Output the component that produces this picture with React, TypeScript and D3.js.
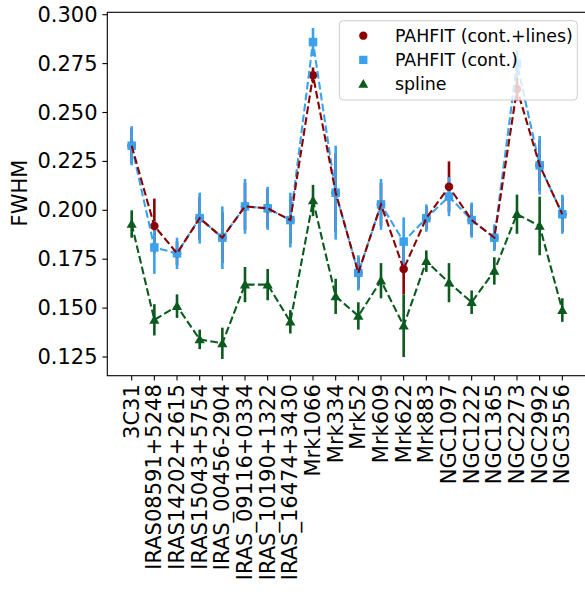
import React from "react";
import * as d3 from "d3";

const categories = [
  "3C31", "IRAS08591+5248", "IRAS14202+2615", "IRAS15043+5754", "IRAS_00456-2904",
  "IRAS_09116+0334", "IRAS_10190+1322", "IRAS_16474+3430", "Mrk1066", "Mrk334",
  "Mrk52", "Mrk609", "Mrk622", "Mrk883", "NGC1097", "NGC1222", "NGC1365",
  "NGC2273", "NGC2992", "NGC3556",
];

const linesVals = [0.233, 0.192, 0.178, 0.196, 0.186, 0.202, 0.201, 0.195, 0.269, 0.209,
  0.168, 0.203, 0.170, 0.196, 0.212, 0.195, 0.186, 0.262, 0.223, 0.198];
const linesErr = [0.009, 0.014, 0.006, 0.011, 0.013, 0.012, 0.010, 0.012, 0.004, 0.020,
  0.008, 0.011, 0.013, 0.006, 0.013, 0.008, 0.006, 0.006, 0.013, 0.009];

const contVals = [0.233, 0.181, 0.178, 0.196, 0.186, 0.202, 0.201, 0.195, 0.286, 0.209,
  0.168, 0.203, 0.184, 0.196, 0.207, 0.195, 0.186, 0.275, 0.223, 0.198];
const contErr = [0.010, 0.0135, 0.008, 0.013, 0.016, 0.014, 0.011, 0.014, 0.0072, 0.024,
  0.009, 0.013, 0.0124, 0.007, 0.010, 0.009, 0.0068, 0.0067, 0.015, 0.010];

const splineVals = [0.193, 0.144, 0.151, 0.134, 0.132, 0.162, 0.162, 0.143, 0.205, 0.156,
  0.146, 0.164, 0.141, 0.174, 0.163, 0.153, 0.169, 0.198, 0.192, 0.149];
const splineErr = [0.007, 0.008, 0.006, 0.005, 0.008, 0.009, 0.008, 0.006, 0.008, 0.009,
  0.007, 0.009, 0.016, 0.0055, 0.010, 0.006, 0.007, 0.010, 0.015, 0.006];

const yTicks = [0.125, 0.15, 0.175, 0.2, 0.225, 0.25, 0.275, 0.3];

const RED = "#8b0000";
const BLUE = "#3aa2ec";
const GREEN = "#0b5a1e";
const FONT = "DejaVu Sans, sans-serif";

const legendItems = [
  { label: "PAHFIT (cont.+lines)", color: RED, shape: "circle" },
  { label: "PAHFIT (cont.)", color: BLUE, shape: "square" },
  { label: "spline", color: GREEN, shape: "triangle" },
];

const L = 107.3, R = 586.7, T = 12.3, B = 375.7;

function Marker({ shape, cx, cy, color, size = 8.5 }: any) {
  const h = size / 2;
  if (shape === "circle") return <circle cx={cx} cy={cy} r={h} fill={color} />;
  if (shape === "square") return <rect x={cx - h} y={cy - h} width={size} height={size} fill={color} />;
  const t = size * 0.6;
  return <path d={`M${cx},${cy - t} L${cx + t},${cy + t * 0.75} L${cx - t},${cy + t * 0.75} Z`} fill={color} />;
}

export default function App() {
  const x = d3.scaleLinear().domain([-1.076, 20.076]).range([L, R]);
  const y = d3.scaleLinear().domain([0.11544, 0.30123]).range([B, T]);
  const line = (vals: number[]) =>
    d3.line<number>().x((_, i) => x(i)).y((v) => y(v))(vals) || "";

  const bars = (vals: number[], errs: number[], color: string) =>
    vals.map((v, i) => (
      <line key={i} x1={x(i)} x2={x(i)} y1={y(v - errs[i])} y2={y(v + errs[i])}
        stroke={color} strokeWidth={2.6} />
    ));
  const markers = (vals: number[], shape: string, color: string) =>
    vals.map((v, i) => <Marker key={i} shape={shape} cx={x(i)} cy={y(v)} color={color} />);
  const dash = "7.7 3.3";

  return (
    <svg width={585} height={592} style={{ position: "absolute", left: 0, top: 0, background: "#fff" }}
      fontFamily={FONT}>
      <rect x={0} y={0} width={585} height={592} fill="#fff" />
      {bars(linesVals, linesErr, RED)}
      {bars(contVals, contErr, BLUE)}
      {bars(splineVals, splineErr, GREEN)}
      {markers(linesVals, "circle", RED)}
      <path d={line(contVals)} fill="none" stroke={BLUE} strokeWidth={2.1} strokeDasharray={dash} />
      {markers(contVals, "square", BLUE)}
      <path d={line(linesVals)} fill="none" stroke={RED} strokeWidth={2.1} strokeDasharray={dash} />
      <path d={line(splineVals)} fill="none" stroke={GREEN} strokeWidth={2.1} strokeDasharray={dash} />
      {markers(splineVals, "triangle", GREEN)}

      {/* spines */}
      <rect x={L} y={T} width={R - L} height={B - T} fill="none" stroke="#000" strokeWidth={1.1} />

      {/* y ticks */}
      {yTicks.map((t) => (
        <g key={t}>
          <line x1={L - 4.9} x2={L} y1={y(t)} y2={y(t)} stroke="#000" strokeWidth={1.1} />
          <text x={L - 9.8} y={y(t)} textAnchor="end" dominantBaseline="central" fontSize={21}>
            {t.toFixed(3)}
          </text>
        </g>
      ))}
      <text transform={`translate(20,193) rotate(-90)`} textAnchor="middle" dominantBaseline="central"
        fontSize={21}>FWHM</text>

      {/* x ticks */}
      {categories.map((c, i) => (
        <g key={c}>
          <line x1={x(i)} x2={x(i)} y1={B} y2={B + 4.9} stroke="#000" strokeWidth={1.1} />
          <text transform={`translate(${x(i)},${B + 8.5}) rotate(-90)`} textAnchor="end"
            dominantBaseline="central" fontSize={21}>{c}</text>
        </g>
      ))}

      {/* legend */}
      <rect x={339.3} y={20.7} width={238} height={79.3} rx={4} ry={4}
        fill="#fff" fillOpacity={0.8} stroke="#cccccc" strokeWidth={1} />
      {legendItems.map((it, k) => {
        const cy = 35.7 + k * 24.2;
        return (
          <g key={it.label}>
            <Marker shape={it.shape} cx={363.3} cy={cy} color={it.color} size={8.3} />
            <text x={395} y={cy} dominantBaseline="central" fontSize={17.4}>{it.label}</text>
          </g>
        );
      })}
    </svg>
  );
}
